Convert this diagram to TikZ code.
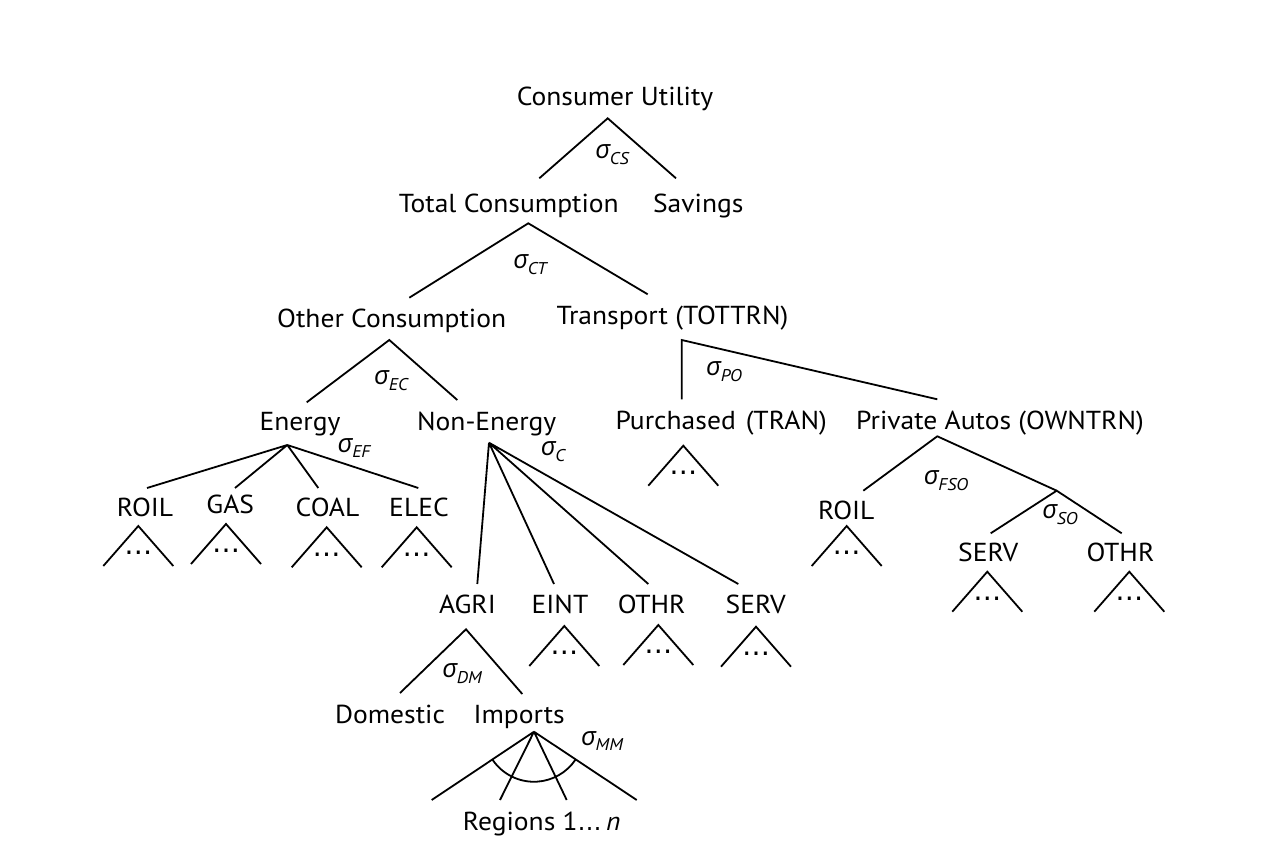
\documentclass[tikz,border=0pt]{standalone}
\usepackage{fontspec}
\setmainfont{PT Sans}[FakeStretch=1.06]
\newfontfamily\grkfont{Open Sans}[Scale=1.0]
\newfontfamily\dotfont{DejaVu Sans}
\newcommand\sigl[1]{{\grkfont\itshape σ}\kern-0.5pt\raisebox{-0.45ex}{\fontsize{17}{17}\selectfont\itshape #1}}
\tikzset{
  lbl/.style={anchor=base, inner sep=0pt, font=\fontsize{26}{30}\selectfont},
  sg/.style={inner sep=0pt, font=\fontsize{26}{30}\selectfont},
  ln/.style={line width=1.8pt},
  subtree/.pic={
    \coordinate (-apex) at (0,0);
    \coordinate (-l) at (-35,40);
    \coordinate (-r) at (35,40);
    \draw[ln] (-l) -- (-apex) -- (-r);
    \node[inner sep=0pt, font=\dotfont\fontsize{28}{32}\selectfont] (-dots) at (0,27) {…};
  }
}
\begin{document}
\begin{tikzpicture}[x=1pt,y=-1pt]
\useasboundingbox (0,0) rectangle (1262,866);

% text nodes
\node[lbl] (cu) at (615,106) {Consumer Utility};
\node[lbl] (tc) at (508.8,212.7) {Total Consumption};
\node[lbl] (sav) at (698.3,212.7) {Savings};
\node[lbl] (oc) at (391.7,327.3) {Other Consumption};
\node[lbl] (tr) at (672.5,325) {Transport (TOTTRN)};
\node[lbl] (en) at (300,431) {Energy};
\node[lbl] (ne) at (486.7,431) {Non-Energy};
\node[lbl] (pu) at (721.2,430) {Purchased\hspace{10pt}(TRAN)};
\node[lbl] (pa) at (1000,430) {Private Autos (OWNTRN)};
\node[lbl] (roil) at (145,516.7) {ROIL};
\node[lbl] (gas) at (230.3,513.3) {GAS};
\node[lbl] (coal) at (327.5,516.7) {COAL};
\node[lbl] (elec) at (419,516.7) {ELEC};
\node[lbl] (agri) at (467.5,613.3) {AGRI};
\node[lbl] (eint) at (560,613.3) {EINT};
\node[lbl] (othr) at (651.7,613.3) {OTHR};
\node[lbl] (serv) at (755.8,613.3) {SERV};
\node[lbl] (roilr) at (846.3,520) {ROIL};
\node[lbl] (servr) at (988.3,561.7) {SERV};
\node[lbl] (othrr) at (1120.5,561.7) {OTHR};
\node[lbl] (dom) at (390,723.3) {Domestic};
\node[lbl] (imp) at (519.2,723.3) {Imports};
\node[lbl] (reg) at (541.7,830) {Regions 1{\dotfont\fontsize{24}{28}\selectfont…}\,\textit{n}};

% sigma labels
\node[sg] (scs) at (612,155) {\sigl{CS}};
\node[sg] (sct) at (530,265) {\sigl{CT}};
\node[sg] (sec) at (391,381) {\sigl{EC}};
\node[sg] (sef) at (354,448) {\sigl{EF}};
\node[sg] (sc) at (553,452) {\sigl{C}};
\node[sg] (spo) at (724,372) {\sigl{PO}};
\node[sg] (sfso) at (946,481) {\sigl{FSO}};
\node[sg] (sso) at (1060,515) {\sigl{SO}};
\node[sg] (sdm) at (462,674) {\sigl{DM}};
\node[sg] (smm) at (602,741) {\sigl{MM}};

% branch coordinates
\coordinate (cuA) at (607.7,118.3);
\coordinate (cuL) at (539.3,178.3);
\coordinate (cuR) at (676,178.3);
\coordinate (tcA) at (528.3,223.3);
\coordinate (tcL) at (409.3,297.7);
\coordinate (tcR) at (647.7,294.3);
\coordinate (ocA) at (389.3,340);
\coordinate (ocL) at (306.7,402.3);
\coordinate (ocR) at (457.3,400);
\coordinate (trA) at (681.7,340);
\coordinate (trL) at (681.7,399.3);
\coordinate (trR) at (937.3,399.3);
\coordinate (enA) at (287.3,445);
\coordinate (en1) at (147,488);
\coordinate (en2) at (235,488);
\coordinate (en3) at (318.3,488);
\coordinate (en4) at (418.3,488);
\coordinate (neA) at (489,442.7);
\coordinate (ne1) at (477.3,584);
\coordinate (ne2) at (554,584);
\coordinate (ne3) at (648.3,584);
\coordinate (ne4) at (738.3,584);
\coordinate (paA) at (937.3,436.3);
\coordinate (paL) at (863.3,490.7);
\coordinate (soA) at (1056.7,490.7);
\coordinate (soL) at (990.7,533.3);
\coordinate (soR) at (1121.7,533.3);
\coordinate (agA) at (466,629.3);
\coordinate (agL) at (400,693);
\coordinate (agR) at (522.3,694);
\coordinate (imA) at (534,731.7);
\coordinate (im1) at (431.7,800);
\coordinate (im2) at (500,800);
\coordinate (im3) at (566.7,800);
\coordinate (im4) at (636.7,800);
\coordinate (arcS) at (492.4,759.5);

\draw[ln] (cuL) -- (cuA) -- (cuR);
\draw[ln] (tcL) -- (tcA) -- (tcR);
\draw[ln] (ocL) -- (ocA) -- (ocR);
\draw[ln] (trL) -- (trA) -- (trR);
\draw[ln] (enA) -- (en1) (enA) -- (en2) (enA) -- (en3) (enA) -- (en4);
\draw[ln] (neA) -- (ne1) (neA) -- (ne2) (neA) -- (ne3) (neA) -- (ne4);
\draw[ln] (paL) -- (paA) -- (soA);
\draw[ln] (soL) -- (soA) -- (soR);
\draw[ln] (agL) -- (agA) -- (agR);
\draw[ln] (imA) -- (im1) (imA) -- (im2) (imA) -- (im3) (imA) -- (im4);
\draw[ln] (arcS) arc[start angle=146.3, end angle=33.7, radius=50];

% sub-trees
\pic (t1) at (138.3,526) {subtree};
\pic (t2) at (226,524) {subtree};
\pic (t3) at (326.7,527.3) {subtree};
\pic (t4) at (416.7,527.3) {subtree};
\pic (t5) at (683.3,445.7) {subtree};
\pic (t6) at (564.3,626) {subtree};
\pic (t7) at (658.3,625) {subtree};
\pic (t8) at (756,626.7) {subtree};
\pic (t9) at (846.7,526) {subtree};
\pic (t10) at (987.3,571.7) {subtree};
\pic (t11) at (1129.3,571.7) {subtree};
\end{tikzpicture}
\end{document}
